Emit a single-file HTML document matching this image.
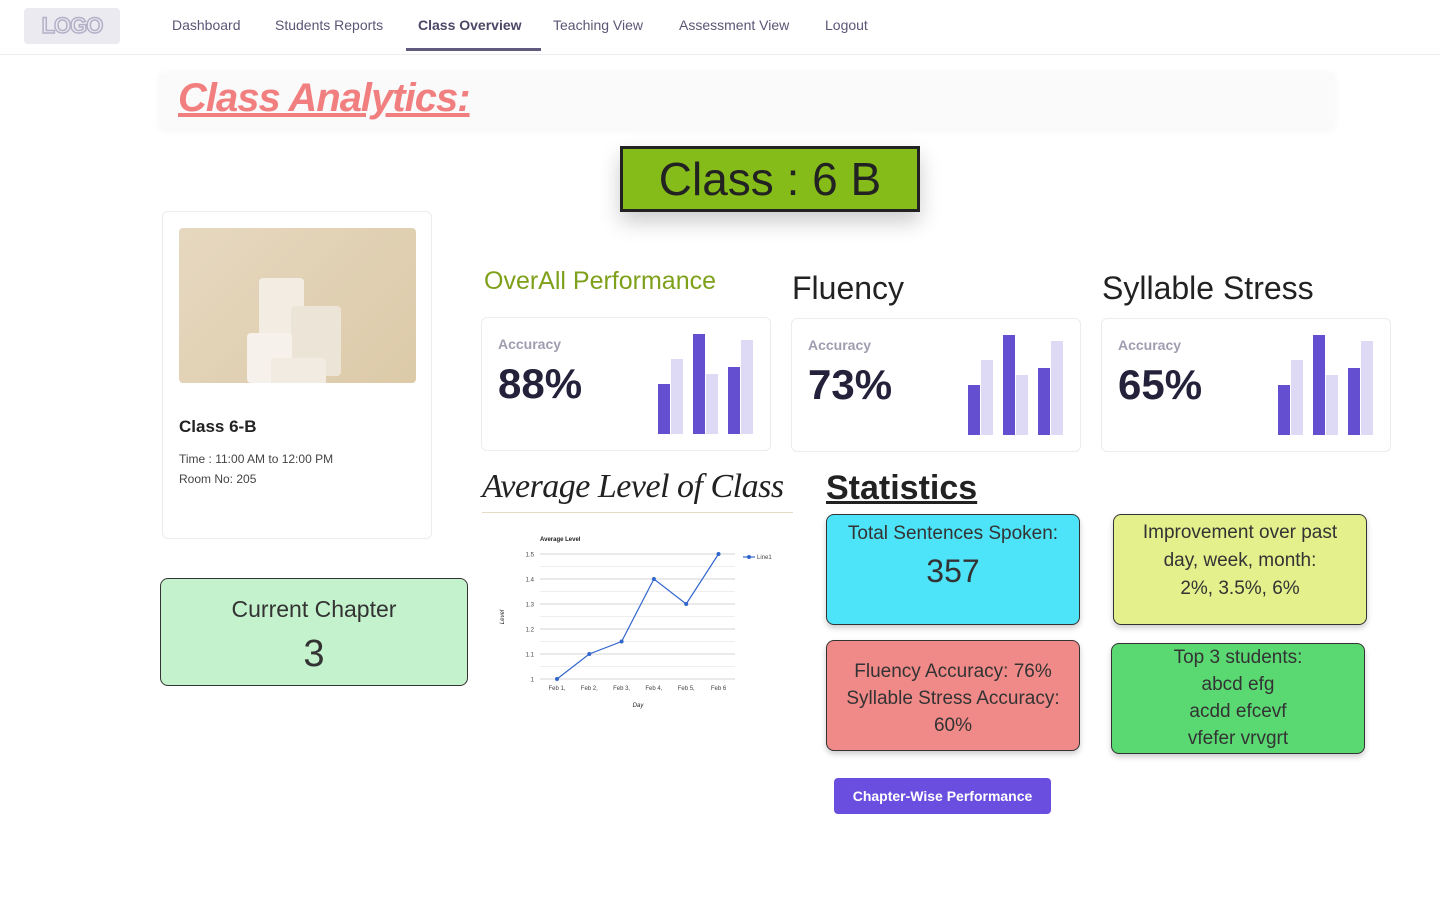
<!DOCTYPE html>
<html><head><meta charset="utf-8"><style>
*{box-sizing:border-box;margin:0;padding:0}
body{width:1440px;height:900px;background:#fff;font-family:"Liberation Sans",sans-serif;position:relative;overflow:hidden;color:#222}
.abs{position:absolute}
.nav a{position:absolute;top:17px;font-size:14px;color:#5b5676;text-decoration:none}
.card{position:absolute;border:1px solid #ececf0;border-radius:6px;background:#fff}
.acc{position:absolute;left:16px;top:18px;font-size:14px;font-weight:bold;color:#a09db0}
.pct{position:absolute;left:16px;top:42px;font-size:42px;font-weight:bold;color:#24213a}
.box{position:absolute;border:1px solid #333;border-radius:8px;text-align:center;color:#333;box-shadow:0 3px 6px rgba(0,0,0,.2);font-size:19px;line-height:27px}
</style></head><body>
<div class="abs" style="left:24px;top:8px;width:96px;height:36px;background:#ebeaf0;border-radius:4px;text-align:center;line-height:36px;font-weight:bold;font-size:22px;color:#ebeaf0;-webkit-text-stroke:1.5px #b4b0c8;letter-spacing:-1px">LOGO</div>
<div class="nav">
<a style="left:172px">Dashboard</a>
<a style="left:275px">Students Reports</a>
<a style="left:418px;font-weight:bold;color:#4b4766">Class Overview</a>
<a style="left:553px">Teaching View</a>
<a style="left:679px">Assessment View</a>
<a style="left:825px">Logout</a>
</div>
<div class="abs" style="left:406px;top:48px;width:135px;height:3px;background:#5f5a7e"></div>
<div class="abs" style="left:0;top:54px;width:1440px;height:1px;background:#ececec"></div>
<div class="abs" style="left:160px;top:74px;width:1174px;height:56px;background:#fafafa;box-shadow:0 0 8px #f4f4f4"></div>
<div class="abs" style="left:178px;top:76px;font-size:40px;font-weight:bold;font-style:italic;color:#f27f7f;text-decoration:underline;letter-spacing:-1px">Class Analytics:</div>
<div class="abs" style="left:620px;top:146px;width:300px;height:66px;background:#86bc1a;border:3px solid #222;text-align:center;font-size:46px;line-height:60px;color:#222;box-shadow:0 10px 20px rgba(0,0,0,.2)">Class : 6 B</div>
<div class="card" style="left:162px;top:211px;width:270px;height:328px">
 <div style="position:absolute;left:16px;top:16px;width:237px;height:155px;border-radius:4px;background:linear-gradient(135deg,#e6d8c0,#dccaa8);overflow:hidden">
  <div style="position:absolute;left:80px;top:50px;width:45px;height:90px;background:#f2ece2;border-radius:4px"></div>
  <div style="position:absolute;left:112px;top:78px;width:50px;height:70px;background:#ece4d6;border-radius:4px"></div>
  <div style="position:absolute;left:68px;top:105px;width:45px;height:50px;background:#f6f1ea;border-radius:4px"></div>
  <div style="position:absolute;left:92px;top:130px;width:55px;height:30px;background:#f1ebe1;border-radius:4px"></div>
 </div>
 <div style="position:absolute;left:16px;top:205px;font-size:17px;font-weight:bold;color:#222">Class 6-B</div>
 <div style="position:absolute;left:16px;top:240px;font-size:12px;color:#444">Time : 11:00 AM to 12:00 PM</div>
 <div style="position:absolute;left:16px;top:260px;font-size:12px;color:#444">Room No: 205</div>
</div>
<div class="box" style="left:160px;top:578px;width:308px;height:108px;background:#c4f2cd;font-size:23px;line-height:32px;padding-top:14px;box-shadow:none">Current Chapter<br><span style="font-size:38px;line-height:58px">3</span></div>

<div class="abs" style="left:484px;top:267px;font-size:25px;color:#7ea01a">OverAll Performance</div>
<div class="abs" style="left:792px;top:270px;font-size:32px;color:#222">Fluency</div>
<div class="abs" style="left:1102px;top:270px;font-size:32px;color:#222">Syllable Stress</div>

<div class="card" id="c1" style="left:481px;top:317px;width:290px;height:134px"><div class="acc">Accuracy</div><div class="pct">88%</div></div>
<div class="card" id="c2" style="left:791px;top:318px;width:290px;height:134px"><div class="acc">Accuracy</div><div class="pct">73%</div></div>
<div class="card" id="c3" style="left:1101px;top:318px;width:290px;height:134px"><div class="acc">Accuracy</div><div class="pct">65%</div></div>

<div class="abs" style="left:482px;top:468px;width:311px;font-size:34px;font-style:italic;color:#222;font-family:'Liberation Serif',serif;border-bottom:1px solid #e5dcc8;padding-bottom:6px;letter-spacing:-0.5px">Average Level of Class</div>
<svg class="abs" id="chart" style="left:490px;top:525px" width="300" height="190"></svg>

<div class="abs" style="left:826px;top:469px;font-size:34px;font-weight:bold;color:#222;text-decoration:underline">Statistics</div>
<div class="box" style="left:826px;top:514px;width:254px;height:111px;background:#4de3f8;padding-top:5px">Total Sentences Spoken:<br><span style="font-size:32px;line-height:48px">357</span></div>
<div class="box" style="left:1113px;top:514px;width:254px;height:111px;background:#e3f08c;padding:4px 22px 0;line-height:28px">Improvement over past day, week, month:<br>2%, 3.5%, 6%</div>
<div class="box" style="left:826px;top:640px;width:254px;height:111px;background:#f08a88;padding-top:17px">Fluency Accuracy: 76%<br>Syllable Stress Accuracy: 60%</div>
<div class="box" style="left:1111px;top:643px;width:254px;height:111px;background:#5ad872;padding-top:0px">Top 3 students:<br>abcd efg<br>acdd efcevf<br>vfefer vrvgrt</div>
<div class="abs" style="left:834px;top:778px;width:217px;height:36px;background:#6a4ee0;border-radius:4px;color:#fff;font-size:14px;font-weight:bold;text-align:center;line-height:36px">Chapter-Wise Performance</div>

<script>
const NS='http://www.w3.org/2000/svg';
// mini bar data for the three accuracy cards (relative heights)
const miniDark1=[50,100,67], miniLight1=[75,60,94];
const miniDark2=[50,100,67], miniLight2=[75,60,94];
const miniDark3=[50,100,67], miniLight3=[75,60,94];
function mini(id,dark,light){
  const c=document.getElementById(id);
  const s=document.createElementNS(NS,'svg');
  s.setAttribute('width','110');s.setAttribute('height','110');
  s.style.position='absolute';s.style.left='170px';s.style.top='10px';
  
  
  const base=106,scale=100/100;
  dark.forEach((v,i)=>{
    const x=6+i*35;
    const r=document.createElementNS(NS,'rect');
    r.setAttribute('x',x);r.setAttribute('y',base-v*scale);r.setAttribute('width',12);r.setAttribute('height',v*scale);r.setAttribute('fill','#634fd0');
    
    
    s.appendChild(r);
    const l=document.createElementNS(NS,'rect');const lv=light[i];
    l.setAttribute('x',x+13);l.setAttribute('y',base-lv*scale);l.setAttribute('width',12);l.setAttribute('height',lv*scale);l.setAttribute('fill','#dedaf5');
    
    
    s.appendChild(l);
  });
  c.appendChild(s);
}
mini('c1',miniDark1,miniLight1);mini('c2',miniDark2,miniLight2);mini('c3',miniDark3,miniLight3);

// line chart
const categories=['Feb 1,','Feb 2,','Feb 3,','Feb 4,','Feb 5,','Feb 6'];
const values=[1.0,1.1,1.15,1.4,1.3,1.5];
const yTicks=[1,1.1,1.2,1.3,1.4,1.5];
const svg=document.getElementById('chart');
const x0=67,dx=32.3,yMin=1,yMax=1.5,yTop=29,yBot=154,left=50,right=245;
const X=i=>x0+i*dx, Y=v=>yBot-(v-yMin)/(yMax-yMin)*(yBot-yTop);
function el(t,a,txt){const e=document.createElementNS(NS,t);for(const k in a)e.setAttribute(k,a[k]);if(txt!==undefined)e.textContent=txt;svg.appendChild(e);return e;}
for(let v=yMin;v<=yMax+1e-9;v+=0.05){
  const g=el('line',{x1:left,x2:right,y1:Y(v),y2:Y(v),stroke:Math.round(v*100)%10===0?'#d4d4d4':'#eeeeee','stroke-width':1});
  
  
}
yTicks.forEach(v=>{const t=el('text',{x:44,y:Y(v)+2.5,'font-size':6,'text-anchor':'end',fill:'#444'},String(v));
  
  });
categories.forEach((c,i)=>{const t=el('text',{x:X(i),y:165,'font-size':6,'text-anchor':'middle',fill:'#444'},c);
  
  });
const pts=values.map((v,i)=>X(i)+','+Y(v)).join(' ');
const pl=el('polyline',{points:pts,fill:'none',stroke:'#3366cc','stroke-width':1.2});


values.forEach((v,i)=>{const c=el('circle',{cx:X(i),cy:Y(v),r:2,fill:'#3366cc'});
  
  });
const tt=el('text',{x:50,y:16,'font-size':6,'font-weight':'bold',fill:'#222'},'Average Level');


const xt=el('text',{x:148,y:182,'font-size':6,'font-style':'italic','text-anchor':'middle',fill:'#222'},'Day');


const yt=el('text',{x:14,y:92,'font-size':6,'font-style':'italic','text-anchor':'middle',fill:'#222',transform:'rotate(-90 14 92)'},'Level');


const ll=el('line',{x1:253,x2:265,y1:32,y2:32,stroke:'#3366cc','stroke-width':1.2});


const lc=el('circle',{cx:259,cy:32,r:2,fill:'#3366cc'});


const lt=el('text',{x:267,y:34,'font-size':6,fill:'#444'},'Line1');


</script>
</body></html>
